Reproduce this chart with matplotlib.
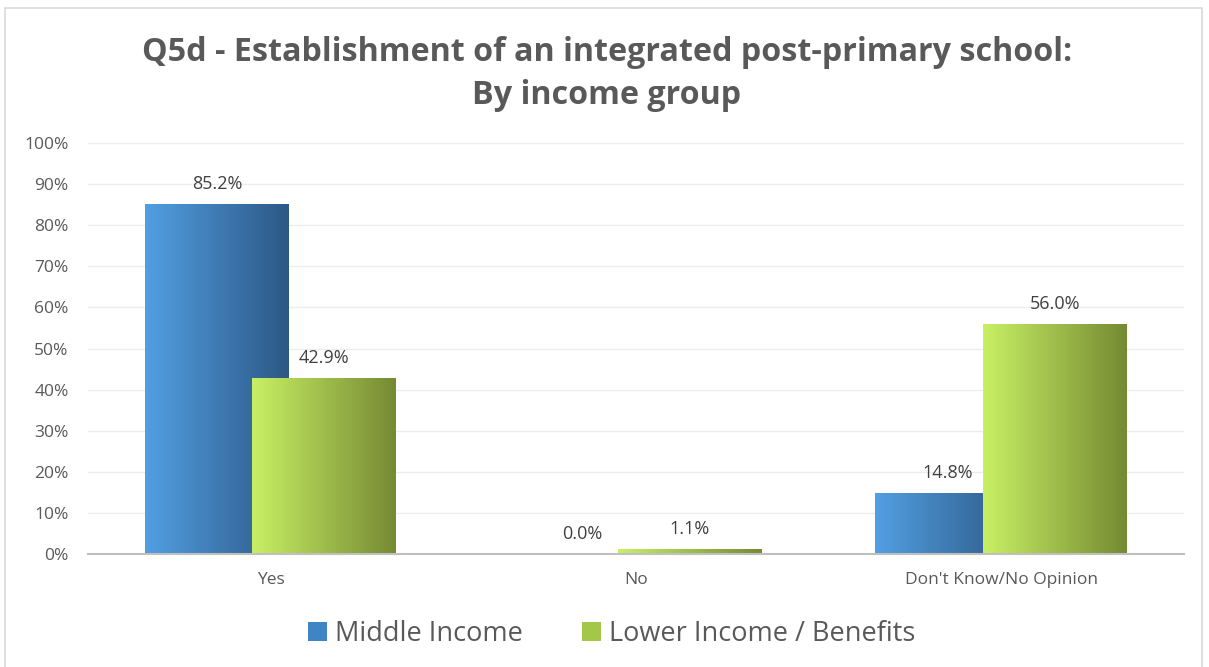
import numpy as np
import matplotlib.pyplot as plt
from matplotlib.colors import LinearSegmentedColormap
from matplotlib.patches import Rectangle, Patch

# --- dados ---
categorias = ["Yes", "No", "Don't Know/No Opinion"]
middle_income = [85.2, 0.0, 14.8]
lower_income = [42.9, 1.1, 56.0]
series_names = ["Middle Income", "Lower Income / Benefits"]
yticks = list(range(0, 101, 10))

TXT = "#595959"
plt.rcParams['font.family'] = ['Open Sans', 'DejaVu Sans']

fig = plt.figure(figsize=(12.09, 6.67), dpi=100)
ax = fig.add_axes([0.0728, 0.1694, 0.9062, 0.6162])

# moldura externa clara
fig.patches.append(Rectangle((0.004, -0.01), 0.99, 0.998, transform=fig.transFigure,
                             fill=False, ec="#D9D9D9", lw=1.2))

grad_blue = LinearSegmentedColormap.from_list("b", ["#529FE2", "#2C5885"])
grad_green = LinearSegmentedColormap.from_list("g", ["#C8F064", "#758A33"])

x = np.arange(len(categorias))
w = 0.394
off = 0.147

b1 = ax.bar(x - off, middle_income, w, zorder=2)
b2 = ax.bar(x + off, lower_income, w, zorder=3)

# gradiente horizontal dentro de cada barra
ramp = np.linspace(0, 1, 256).reshape(1, -1)
for bars, cmap, z in [(b1, grad_blue, 2), (b2, grad_green, 3)]:
    for p in bars:
        x0, h, bw = p.get_x(), p.get_height(), p.get_width()
        if h <= 0:
            p.set_visible(False)
            continue
        im = ax.imshow(ramp, cmap=cmap, aspect='auto', extent=(x0, x0 + bw, 0, h),
                       zorder=z, interpolation='bilinear')
        im.set_clip_path(p)
        p.set_facecolor('none')
        p.set_edgecolor('none')

# rótulos de valores
for xs, vals in [(x - off, middle_income), (x + off, lower_income)]:
    for xi, v in zip(xs, vals):
        ax.annotate(f"{v:.1f}%", (xi, v), xytext=(0, 8), textcoords='offset points',
                    ha='center', va='bottom', fontsize=13, color="#404040")

ax.set_xlim(-0.5, 2.5)
ax.set_ylim(0, 100)
ax.set_yticks(yticks)
ax.set_yticklabels([f"{t}%" for t in yticks], fontsize=12.5, color=TXT)
ax.set_xticks(x)
ax.set_xticklabels(categorias, fontsize=12.5, color=TXT)
ax.tick_params(axis='both', length=0)
ax.tick_params(axis='x', pad=13)
ax.tick_params(axis='y', pad=14)
ax.grid(axis='y', color="#EDEDED", lw=1, zorder=0)
ax.set_axisbelow(True)
for s in ["top", "right", "left"]:
    ax.spines[s].set_visible(False)
ax.spines["bottom"].set_color("#BFBFBF")
ax.spines["bottom"].set_linewidth(1.5)
ax.spines["bottom"].set_zorder(5)

fig.text(0.502, 0.889, "Q5d - Establishment of an integrated post-primary school:\nBy income group",
         ha='center', va='center', fontsize=23.2, fontweight='bold', color=TXT, linespacing=1.4)

handles = [Patch(fc="#3F85C5", ec='none'), Patch(fc="#A3C747", ec='none')]
fig.legend(handles, series_names, loc='center', bbox_to_anchor=(0.506, 0.05), ncol=2,
           frameon=False, fontsize=19.5, labelcolor=TXT, handlelength=0.7, handleheight=0.7,
           handletextpad=0.3, columnspacing=2.2)

fig.savefig("out.png", dpi=100)
